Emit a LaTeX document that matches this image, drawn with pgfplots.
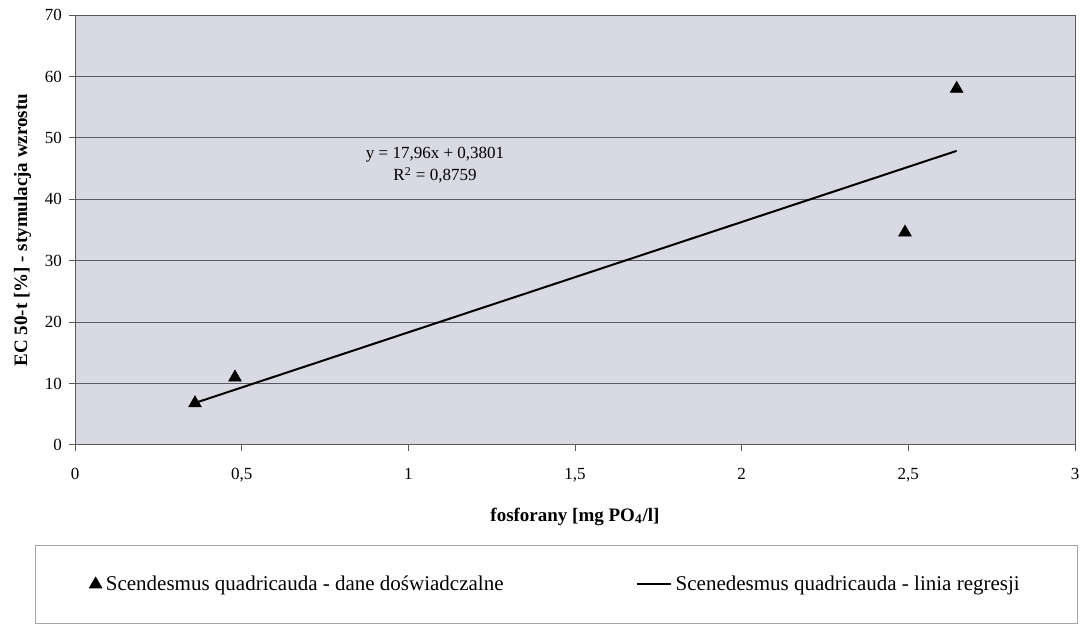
\documentclass[border=0pt]{standalone}
\usepackage{pgfplots}
\pgfplotsset{compat=1.18}
\usepackage{fontspec}
\setmainfont{Liberation Serif}
\definecolor{plotbg}{RGB}{216,217,226}
\definecolor{gridc}{RGB}{90,90,100}
\begin{document}
\begin{tikzpicture}
\path[use as bounding box] (0pt,0pt) rectangle (543.5pt,315.5pt);
\begin{axis}[
  at={(37.5pt,93pt)}, anchor=south west,
  scale only axis,
  width=500pt, height=215pt,
  xmin=0, xmax=3, ymin=0, ymax=70,
  xtick={0,0.5,1,1.5,2,2.5,3},
  ytick={0,10,20,30,40,50,60,70},
  xtick pos=bottom, ytick pos=left,
  /pgf/number format/use comma,
  /pgf/number format/assume math mode=true,
  tick label style={font=\fontsize{8.5}{10}\selectfont},
  xticklabel style={yshift=-5pt},
  ymajorgrids,
  grid style={gridc, line width=0.5pt},
  axis background/.style={fill=plotbg},
  axis line style={gray!70!black, line width=0.5pt},
  tick style={gray!70!black, line width=0.5pt},
  tick align=outside,
  major tick length=3pt,
  xlabel={\bfseries fosforany [mg PO\textsubscript{4}/l]},
  ylabel={\bfseries EC 50-t [\%] - stymulacja wzrostu},
  xlabel style={font=\fontsize{9.5}{11}\selectfont, yshift=-6pt},
  ylabel style={font=\fontsize{9.5}{11}\selectfont, yshift=0pt},
  legend columns=2,
  legend style={
    at={(-0.04,-0.233)}, anchor=north west,
    draw=gray!70, fill=white,
    font=\fontsize{10.5}{12}\selectfont,
    inner xsep=27pt, inner ysep=13pt,
    /tikz/every even column/.append style={column sep=64pt},
  },
  legend cell align=left,
]
\addplot[only marks, mark=triangle*, mark size=3.6pt, black]
  coordinates {(0.36,6.8) (0.48,11.0) (2.49,34.6) (2.645,58.0)};
\addlegendentry{Scendesmus quadricauda - dane doświadczalne}
\addplot[black, line width=1pt, no marks]
  coordinates {(0.36,6.846) (2.645,47.885)};
\addlegendentry{Scenedesmus quadricauda - linia regresji}
\node[align=center, font=\fontsize{8.5}{11}\selectfont] at (axis cs:1.08,45.5)
  {y = 17,96x + 0,3801\\R\textsuperscript{2} = 0,8759};
\end{axis}
\end{tikzpicture}
\end{document}
